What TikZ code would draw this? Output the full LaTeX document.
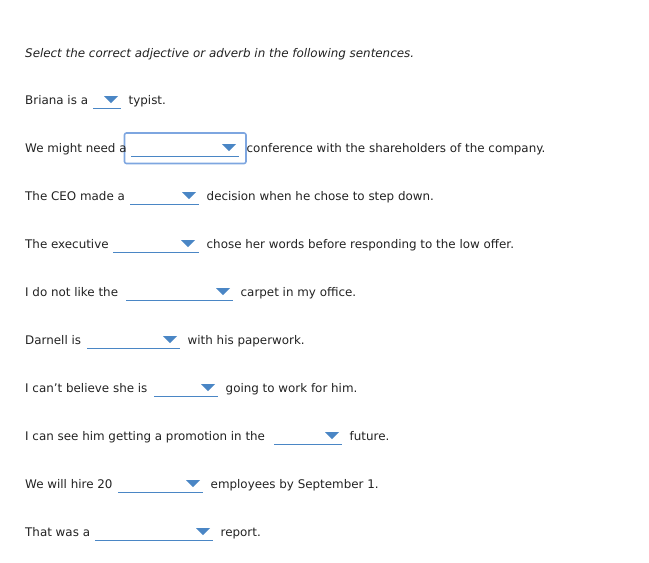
\documentclass[tikz,border=0pt]{standalone}
\usepackage{fontspec}
\setmainfont{DejaVu Sans}
\definecolor{ddblue}{HTML}{4A86C5}
\definecolor{focus}{HTML}{7EA6E0}
\definecolor{txt}{HTML}{222222}
\begin{document}
\begin{tikzpicture}[x=1pt,y=-1pt,
  lbl/.style={anchor=base west,inner sep=0pt,font=\fontsize{11.9}{13}\selectfont,text=txt},
  uline/.style={draw=ddblue,line width=0.9pt},
  tri/.style={fill=ddblue}]
\useasboundingbox (0,0) rectangle (649,563);
\node[lbl,font=\fontsize{11.9}{13}\selectfont\itshape] (title) at (25,57) {Select the correct adjective or adverb in the following sentences.};
\draw[focus,line width=1.6pt,rounded corners=2pt] (124.5,133) rectangle (246,163.5);
\foreach \n/\y/\pre/\a/\b/\t/\post in {
 1/100/{Briana is a}/93/121/111/{typist.},
 2/148/{We might need a}/131/239/229/{conference with the shareholders of the company.},
 3/196/{The CEO made a}/130/199/189/{decision when he chose to step down.},
 4/244/{The executive}/113/199/188/{chose her words before responding to the low offer.},
 5/292/{I do not like the}/126/233/223/{carpet in my office.},
 6/340/{Darnell is}/87/180/170/{with his paperwork.},
 7/388/{I can’t believe she is}/154/218/208/{going to work for him.},
 8/436/{I can see him getting a promotion in the}/274/342/332/{future.},
 9/484/{We will hire 20}/118/203/193/{employees by September 1.},
 10/532/{That was a}/95/213/203/{report.}}{
  \node[lbl] (pre\n) at (25,\y+4.5) {\pre};
  \coordinate (ul\n) at (\a,\y+8.5);
  \coordinate (ur\n) at (\b,\y+8.5);
  \draw[uline] (ul\n) -- (ur\n);
  \fill[tri] (\t-7,\y-4) -- (\t+7,\y-4) -- (\t,\y+3) -- cycle;
  \node[lbl] (post\n) at (\b+7.5,\y+4.5) {\post};
}
\end{tikzpicture}
\end{document}
